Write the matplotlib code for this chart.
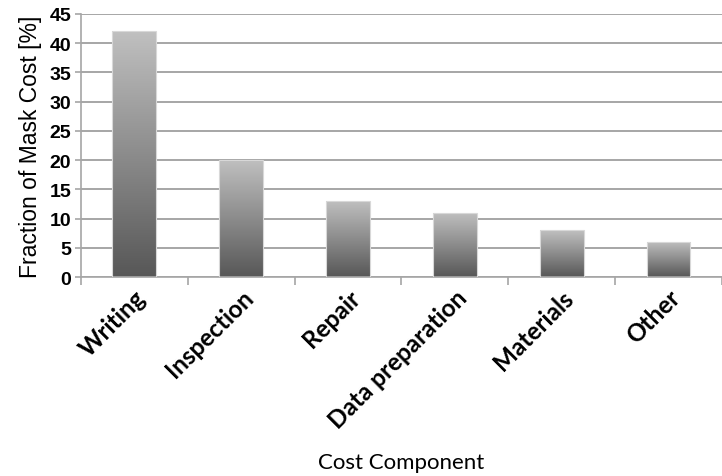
import numpy as np
import matplotlib
matplotlib.use("Agg")
import matplotlib.pyplot as plt
from matplotlib.colors import LinearSegmentedColormap

# cost share of each mask component, in percent
components = ["Writing", "Inspection", "Repair", "Data preparation", "Materials", "Other"]
fractions = [42, 20, 13, 11, 8, 6]
yticks = [0, 5, 10, 15, 20, 25, 30, 35, 40, 45]

fig = plt.figure(figsize=(7.22, 4.77), dpi=100)
ax = fig.add_axes([0.112, 0.417, 0.888, 0.552])

x = np.arange(len(components))
bars = ax.bar(x, fractions, width=0.41, color="none", edgecolor="#d8d8d8",
              linewidth=0.8, zorder=3)

# vertical grey gradient inside each bar (light top, dark bottom)
cmap = LinearSegmentedColormap.from_list("bar", ["#575757", "#8c8c8c", "#c0c0c0"])
grad = np.linspace(0, 1, 256).reshape(-1, 1)
for b in bars:
    bx, by = b.get_x(), b.get_y()
    w, h = b.get_width(), b.get_height()
    im = ax.imshow(grad, cmap=cmap, origin="lower", aspect="auto",
                   extent=(bx, bx + w, by, by + h), zorder=2)
    im.set_clip_path(b)

ax.set_xlim(-0.5, len(components) - 0.5)
ax.set_ylim(0, 45)
ax.set_yticks(yticks)
ax.set_yticklabels([str(v) for v in yticks], fontsize=14, fontweight="bold",
                   family="Liberation Sans")
ax.yaxis.grid(True, color="#a6a6a6", linewidth=1.4, zorder=0)
ax.set_axisbelow(True)

# category boundary ticks on the x axis
ax.set_xticks(np.arange(len(components) + 1) - 0.5, minor=True)
ax.set_xticks(x)
ax.tick_params(axis="x", which="major", length=0, pad=6)
ax.tick_params(axis="x", which="minor", length=6, color="#a6a6a6", width=1.2)
ax.tick_params(axis="y", length=4, color="#a6a6a6", width=1.2, pad=3)
ax.set_xticklabels(components, rotation=45, ha="right", va="top",
                   rotation_mode="anchor", fontsize=17.5, fontweight="bold",
                   family="Lato")

for side in ["top", "right"]:
    ax.spines[side].set_visible(False)
ax.spines["left"].set_color("#a6a6a6")
ax.spines["left"].set_linewidth(1.2)
ax.spines["bottom"].set_color("#a6a6a6")
ax.spines["bottom"].set_linewidth(1.2)

ax.set_ylabel("Fraction of Mask Cost [%]", fontsize=16.5, family="Liberation Sans",
              labelpad=5)
fig.text(0.555, 0.03, "Cost Component", ha="center", va="center",
         fontsize=16, family="Lato")

fig.savefig("out.png", dpi=100)
